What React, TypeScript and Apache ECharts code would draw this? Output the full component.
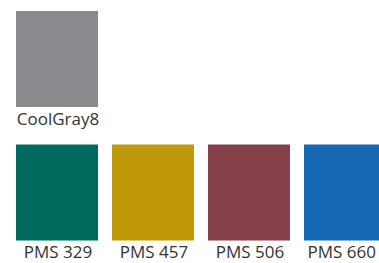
import React, { useEffect, useRef } from "react";
import * as echarts from "echarts";

const swatchNames = ["CoolGray8", "PMS 329", "PMS 457", "PMS 506", "PMS 660"];
const swatchColors = ["#8a8a8e", "#006a5f", "#c0990a", "#85414a", "#1667b3"];
const swatchColumns = [0, 0, 1, 2, 3];
const swatchRows = [0, 1, 1, 1, 1];

const labelFont = "17px 'Open Sans'";

function measure(text: string): number {
  const cv = document.createElement("canvas");
  const ctx = cv.getContext("2d");
  if (!ctx) return text.length * 9;
  ctx.font = labelFont;
  return ctx.measureText(text).width;
}

export default function App() {
  const ref = useRef<HTMLDivElement>(null);
  useEffect(() => {
    if (!ref.current) return;
    const chart = echarts.init(ref.current, null, { renderer: "svg" });
    const data = swatchNames.map((n, i) => ({
      value: [swatchColumns[i], swatchRows[i]],
      name: n,
      itemStyle: { color: swatchColors[i] },
    }));
    const xMin = -57 / 96;
    const yMin = -59 / 133.5;
    chart.setOption({
      animation: false,
      backgroundColor: "#ffffff",
      grid: { left: 0, top: 0, right: 0, bottom: 0, containLabel: false },
      xAxis: { type: "value", min: xMin, max: xMin + 379 / 96, show: false },
      yAxis: { type: "value", min: yMin, max: yMin + 263 / 133.5, inverse: true, show: false },
      series: [
        {
          type: "custom",
          data,
          clip: false,
          renderItem: (params: any, api: any) => {
            const c = api.coord([api.value(0), api.value(1)]);
            const s = api.size([1, 1]);
            const w = s[0] * (82 / 96);
            const h = s[1] * (96 / 133.5);
            const idx = params.dataIndex;
            const x0 = c[0] - w / 2;
            const y0 = c[1] - h / 2;
            const tw = measure(swatchNames[idx]);
            const width = api.getWidth();
            const tx = Math.min(c[0] + 1, width - 3 - tw / 2);
            return {
              type: "group",
              children: [
                {
                  type: "rect",
                  shape: { x: x0, y: y0, width: w, height: h },
                  style: { fill: swatchColors[idx] },
                },
                {
                  type: "text",
                  x: tx,
                  y: y0 + h + 2.5,
                  style: {
                    text: swatchNames[idx],
                    fill: "#333333",
                    font: labelFont,
                    align: "center",
                    verticalAlign: "top",
                  },
                },
              ],
            };
          },
        },
      ],
    });
    return () => chart.dispose();
  }, []);
  return (
    <div
      ref={ref}
      style={{ position: "absolute", left: 0, top: 0, width: 379, height: 263 }}
    />
  );
}
